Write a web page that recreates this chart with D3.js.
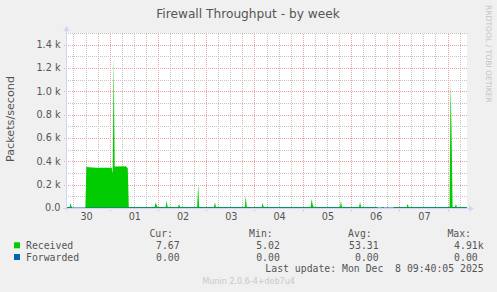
<!DOCTYPE html>
<html>
<head>
<meta charset="utf-8">
<script src="https://cdn.jsdelivr.net/npm/d3@7"></script>
<style>
body{margin:0;background:#f0f0f0}
svg{display:block}
</style>
</head>
<body>
<div class="chart"></div>
<script>
// values
let recvTimes=[
  '2025-11-30 02:46','2025-11-30 04:05','2025-11-30 04:35','2025-11-30 05:05','2025-11-30 05:35',
  '2025-11-30 11:55','2025-11-30 12:25','2025-11-30 13:40','2025-11-30 17:00','2025-12-01 01:00',
  '2025-12-01 01:30','2025-12-01 02:00','2025-12-01 02:30','2025-12-01 08:00','2025-12-01 09:00',
  '2025-12-01 09:30',
  '2025-12-01 22:20','2025-12-01 22:50','2025-12-01 23:20','2025-12-01 23:50',
  '2025-12-02 03:50','2025-12-02 04:20','2025-12-02 04:50',
  '2025-12-02 10:00','2025-12-02 10:30','2025-12-02 11:00',
  '2025-12-02 19:30','2025-12-02 20:00','2025-12-02 20:30',
  '2025-12-03 03:50','2025-12-03 04:20','2025-12-03 04:50',
  '2025-12-03 19:10','2025-12-03 19:40','2025-12-03 20:10',
  '2025-12-04 03:35','2025-12-04 04:05','2025-12-04 04:35',
  '2025-12-05 03:55','2025-12-05 04:25','2025-12-05 04:55','2025-12-05 05:25',
  '2025-12-05 18:30','2025-12-05 19:00','2025-12-05 19:30',
  '2025-12-06 04:00','2025-12-06 04:30','2025-12-06 05:00',
  '2025-12-06 13:00','2025-12-06 13:25','2025-12-06 14:55','2025-12-06 15:25','2025-12-06 16:00',
  '2025-12-06 16:25','2025-12-06 17:55','2025-12-06 18:25','2025-12-06 18:50','2025-12-06 20:50',
  '2025-12-06 21:20',
  '2025-12-07 03:40','2025-12-07 04:10','2025-12-07 04:40',
  '2025-12-08 01:00','2025-12-08 01:30','2025-12-08 02:00','2025-12-08 02:30',
  '2025-12-08 03:40','2025-12-08 04:10','2025-12-08 04:40',
  '2025-12-08 09:40'
]
let recvValues=[
  8,8,43,8,0,
  0,356,350,345,345,
  295,1300,355,358,340,
  8,
  8,48,25,8,
  8,63,8,
  8,34,8,
  8,200,8,
  8,50,8,
  8,100,8,
  8,43,8,
  8,78,30,8,
  8,57,8,
  8,51,8,
  8,0,0,8,8,
  0,0,8,0,0,
  8,
  8,37,8,
  8,1080,650,8,
  8,34,8,
  8
]
let fwdTimes=['2025-11-30 02:46','2025-12-08 09:40']
let fwdValues=[0,0]

let yTicks=[0,200,400,600,800,1000,1200,1400]
let yTickLabels=['0.0','0.2 k','0.4 k','0.6 k','0.8 k','1.0 k','1.2 k','1.4 k']
let dayLabels=['30','01','02','03','04','05','06','07']
let dayLabelDates=['2025-11-30 12:00','2025-12-01 12:00','2025-12-02 12:00','2025-12-03 12:00',
  '2025-12-04 12:00','2025-12-05 12:00','2025-12-06 12:00','2025-12-07 12:00']

let legendNames=['Received','Forwarded']
let legendCur=['7.67','0.00']
let legendMin=['5.02','0.00']
let legendAvg=['53.31','0.00']
let legendMax=['4.91k','0.00']
let lastUpdate='Last update: Mon Dec  8 09:40:05 2025'
let colors=['#00cc00','#0066b3']

let w=497,h=292
let pLeft=67,pRight=467,pTop=33,pBottom=208
let parse=d3.utcParse('%Y-%m-%d %H:%M')
let endTime=new Date(Date.UTC(2025,11,8,9,40,5))
let startTime=new Date(endTime.getTime()-716000*1000)

let xScale=d3.scaleUtc().domain([startTime,endTime]).range([pLeft,pRight])
let yScale=d3.scaleLinear().domain([0,1500]).range([pBottom,pTop])

let svg=d3.select('.chart').append('svg').attr('width',w).attr('height',h)
svg.append('rect').attr('width',w).attr('height',h).attr('fill','#f0f0f0')
svg.append('rect').attr('x',pLeft).attr('y',pTop).attr('width',pRight-pLeft).attr('height',pBottom-pTop).attr('fill','#fff')

// dotted patterns for the grid: one pixel on, one pixel off
let defs=svg.append('defs')
let dotPattern=(id,col,horiz)=>{
  let p=defs.append('pattern').attr('id',id).attr('patternUnits','userSpaceOnUse')
    .attr('width',horiz?2:1).attr('height',horiz?1:2)
  p.append('rect').attr('width',1).attr('height',1).attr('fill',col)
}
dotPattern('hMinor','#c4c4c4',true)
dotPattern('vMinor','#c4c4c4',false)
dotPattern('hMajor','#f2a0a0',true)
dotPattern('vMajor','#f2a0a0',false)

let grid=svg.append('g').attr('shape-rendering','crispEdges')
let minorY=d3.range(100,1501,100).filter(v=>v%200!=0)
let majorX=d3.utcDay.range(startTime,endTime)
let minorX=[]
d3.utcDay.range(d3.utcDay.floor(startTime),endTime).forEach(d=>{
  [6,12,18].forEach(k=>{
    let t=d3.utcHour.offset(d,k)
    if(t>startTime&&t<endTime) minorX.push(t)
  })
})
minorY.forEach(v=>{
  grid.append('rect').attr('x',pLeft).attr('y',Math.round(yScale(v))).attr('width',pRight-pLeft).attr('height',1).attr('fill','url(#hMinor)')
})
minorX.forEach(t=>{
  grid.append('rect').attr('x',Math.round(xScale(t))).attr('y',pTop).attr('width',1).attr('height',pBottom-pTop).attr('fill','url(#vMinor)')
})
yTicks.filter(v=>v>0).forEach(v=>{
  grid.append('rect').attr('x',pLeft-4).attr('y',Math.round(yScale(v))).attr('width',pRight-pLeft+4).attr('height',1).attr('fill','url(#hMajor)')
})
majorX.forEach(t=>{
  grid.append('rect').attr('x',Math.round(xScale(t))).attr('y',pTop).attr('width',1).attr('height',pBottom-pTop+3).attr('fill','url(#vMajor)')
})

// received area
let recv=recvTimes.map((t,i)=>({t:parse(t),v:recvValues[i]}))
let area=d3.area().x(d=>xScale(d.t)).y0(yScale(0)).y1(d=>yScale(d.v))
svg.append('path').datum(recv).attr('d',area).attr('fill',colors[0])

// forwarded line
let fwd=fwdTimes.map((t,i)=>({t:parse(t),v:fwdValues[i]}))
let line=d3.line().x(d=>xScale(d.t)).y(d=>yScale(d.v))
svg.append('path').datum(fwd).attr('d',line).attr('fill','none').attr('stroke',colors[1]).attr('stroke-width',1)

// axes
let axisCol='#cfd6f8'
svg.append('path').attr('d','M66.5,'+(pBottom+3)+'V29').attr('stroke',axisCol)
svg.append('path').attr('d','M63.5,31L66.5,26L69.5,31Z').attr('fill',axisCol)
svg.append('path').attr('d','M63,208.5H470').attr('stroke',axisCol)
svg.append('path').attr('d','M469,205.5L474,208.5L469,211.5Z').attr('fill',axisCol)

let font='DejaVu Sans'
let textCol='#555'

// y tick labels
svg.selectAll('.ytick').data(yTicks).enter().append('text').attr('class','ytick')
  .attr('x',60.5).attr('y',d=>yScale(d)+3.4).attr('text-anchor','end')
  .attr('font-family',font).attr('font-size','9.7px').attr('fill',textCol)
  .text((d,i)=>yTickLabels[i])

// x day labels
svg.selectAll('.xtick').data(dayLabelDates).enter().append('text').attr('class','xtick')
  .attr('x',d=>xScale(parse(d))+1).attr('y',219.5).attr('text-anchor','middle')
  .attr('font-family',font).attr('font-size','9.7px').attr('fill',textCol)
  .text((d,i)=>dayLabels[i])

// title and unit label
svg.append('text').text('Firewall Throughput - by week').attr('x',248).attr('y',17.5)
  .attr('text-anchor','middle').attr('font-family',font).attr('font-size','12.2px').attr('fill',textCol)
svg.append('text').text('Packets/second').attr('transform','translate(14,119) rotate(-90)')
  .attr('text-anchor','middle').attr('font-family',font).attr('font-size','11.2px').attr('fill',textCol)
svg.append('text').text('RRDTOOL / TOBI OETIKER').attr('transform','translate(486,5) rotate(90)')
  .attr('font-family',font).attr('font-size','7.6px').attr('fill','#c4c4c4')

// legend
let mono='DejaVu Sans Mono'
let nb=s=>s.replace(/ /g,'\u00a0')
let leg=svg.append('g').attr('font-family',mono).attr('font-size','9.8px').attr('fill',textCol)
let headX=[149.4,249.1,348.1,447.4]
;['Cur:','Min:','Avg:','Max:'].forEach((s,i)=>{
  leg.append('text').attr('x',headX[i]).attr('y',237).text(s)
})
let rowY=[249,260.7]
legendNames.forEach((name,i)=>{
  leg.append('rect').attr('x',14).attr('y',rowY[i]-6.7).attr('width',6).attr('height',6).attr('fill',colors[i])
  leg.append('text').attr('x',26).attr('y',rowY[i]).text(name)
  leg.append('text').attr('x',179.6).attr('y',rowY[i]).attr('text-anchor','end').text(legendCur[i])
  leg.append('text').attr('x',279.8).attr('y',rowY[i]).attr('text-anchor','end').text(legendMin[i])
  leg.append('text').attr('x',378.6).attr('y',rowY[i]).attr('text-anchor','end').text(legendAvg[i])
  leg.append('text').attr('x',legendMax[i].endsWith('k')?483.6:477.7).attr('y',rowY[i]).attr('text-anchor','end').text(legendMax[i])
})
leg.append('text').attr('x',483.6).attr('y',272.3).attr('text-anchor','end').text(nb(lastUpdate))

svg.append('text').text('Munin 2.0.6-4+deb7u4').attr('x',248.7).attr('y',284)
  .attr('text-anchor','middle').attr('font-family',font).attr('font-size','8px').attr('fill','#c8c8c8')
</script>
</body>
</html>
